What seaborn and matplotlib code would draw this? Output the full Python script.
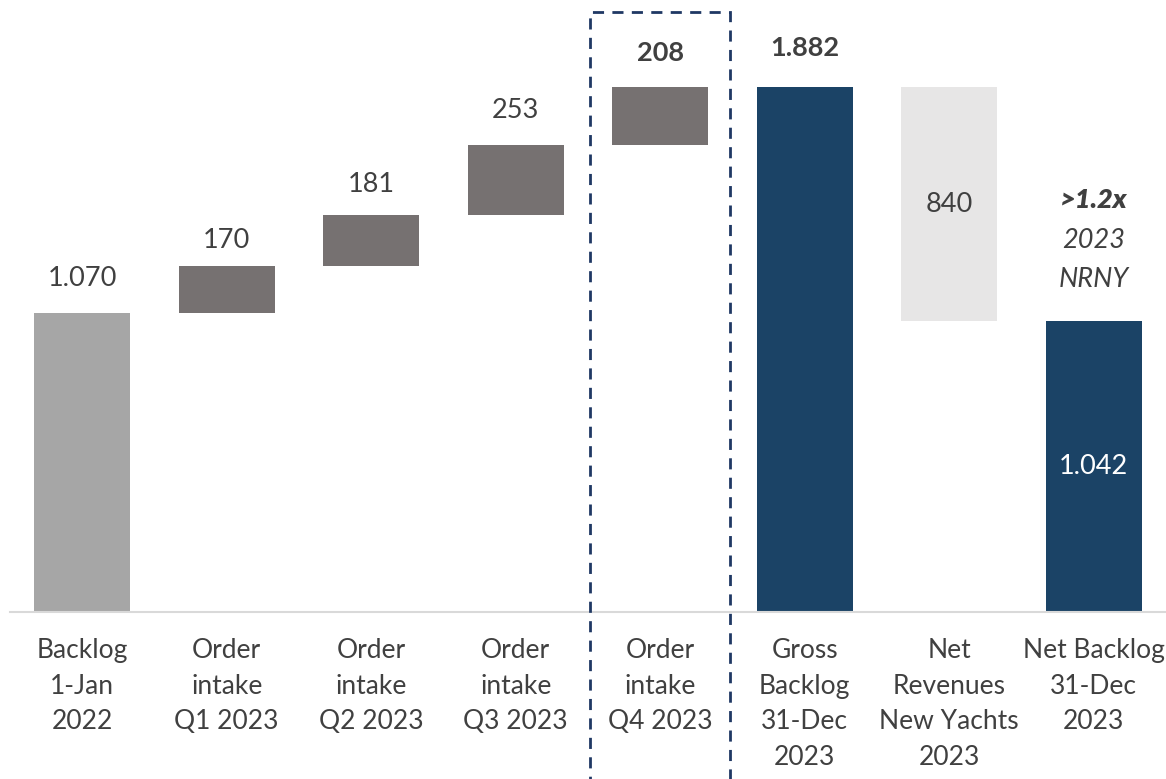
import matplotlib.pyplot as plt
import matplotlib.patches as mpatches
import seaborn as sns
import numpy as np

# Data
categories = ['Backlog\n1-Jan\n2022', 'Order\nintake\nQ1 2023', 'Order\nintake\nQ2 2023',
              'Order\nintake\nQ3 2023', 'Order\nintake\nQ4 2023', 'Gross\nBacklog\n31-Dec\n2023',
              'Net\nRevenues\nNew Yachts\n2023', 'Net Backlog\n31-Dec\n2023']
values = [1070, 170, 181, 253, 208, 1882, 840, 1042]
# kind of step: start, add, total, subtract, total
kinds = ['start', 'add', 'add', 'add', 'add', 'total', 'sub', 'total']
bar_colors = ['#a6a6a6', '#767171', '#767171', '#767171', '#767171',
              '#1b4366', '#e7e6e6', '#1b4366']

# waterfall bottoms
bottoms = []
running = 0
for v, k in zip(values, kinds):
    if k in ('start', 'total'):
        bottoms.append(0)
        running = v
    elif k == 'add':
        bottoms.append(running)
        running += v
    else:
        running -= v
        bottoms.append(running)
bottoms = np.array(bottoms)

sns.set_theme(style='white')
plt.rcParams['font.family'] = ['Lato', 'DejaVu Sans']
text_color = '#404040'

fig = plt.figure(figsize=(11.66, 7.79), dpi=100)
ax = fig.add_axes([10 / 1166, 1 - 612 / 779, 1 - 10 / 1166, 612 / 779])

sns.barplot(x=categories, y=values, bottom=bottoms, color='#767171',
            width=0.667, saturation=1, ax=ax)
for patch, c in zip(ax.patches, bar_colors):
    patch.set_facecolor(c)
    patch.set_edgecolor('none')

ax.set_ylim(0, 2193)
ax.set_xlim(-0.5, len(categories) - 0.5)
ax.set_yticks([])
ax.set_ylabel('')
for s in ['top', 'left', 'right']:
    ax.spines[s].set_visible(False)
ax.spines['bottom'].set_color('#d9d9d9')
ax.spines['bottom'].set_linewidth(1.5)
ax.tick_params(axis='x', length=0, pad=19, labelsize=19, labelcolor=text_color)
for lbl in ax.get_xticklabels():
    lbl.set_linespacing(1.52)
    lbl.set_verticalalignment('top')

fmt = lambda v: f'{v:,}'.replace(',', '.')
fs = 19.5

# labels above bars
label_offsets = [16, 9, 13, 16, 16]
for i in range(5):
    top = bottoms[i] + values[i]
    bold = 'bold' if i == 4 else 'normal'
    ax.annotate(fmt(values[i]), (i, top), xytext=(0, label_offsets[i]), textcoords='offset points',
                ha='center', va='bottom', fontsize=fs, color=text_color, fontweight=bold)
ax.annotate(fmt(values[5]), (5, values[5]), xytext=(0, 19), textcoords='offset points',
            ha='center', va='bottom', fontsize=fs, color=text_color, fontweight='bold')
# inside labels
ax.text(6, bottoms[6] + values[6] / 2, fmt(values[6]), ha='center', va='center',
        fontsize=fs, color=text_color)
ax.text(7, values[7] / 2, fmt(values[7]), ha='center', va='center',
        fontsize=fs, color='white')
# multiple annotation
for txt, off, w in [('>1.2x', 87, 'heavy'), ('2023', 58, 'normal'), ('NRNY', 30, 'normal')]:
    ax.annotate(txt, (7, values[7]), xytext=(0, off), textcoords='offset points',
                ha='center', va='center', fontsize=fs, color=text_color,
                fontweight=w, fontstyle='italic')

# dashed highlight box around Q4
rect = mpatches.Rectangle((590 / 1166, -0.02), 140 / 1166, 1.02 - 12 / 779,
                          transform=fig.transFigure, fill=False, edgecolor='#1f3864',
                          linewidth=2, linestyle=(0, (4, 3)), clip_on=False)
fig.patches.append(rect)

fig.savefig('out.png', dpi=100)
